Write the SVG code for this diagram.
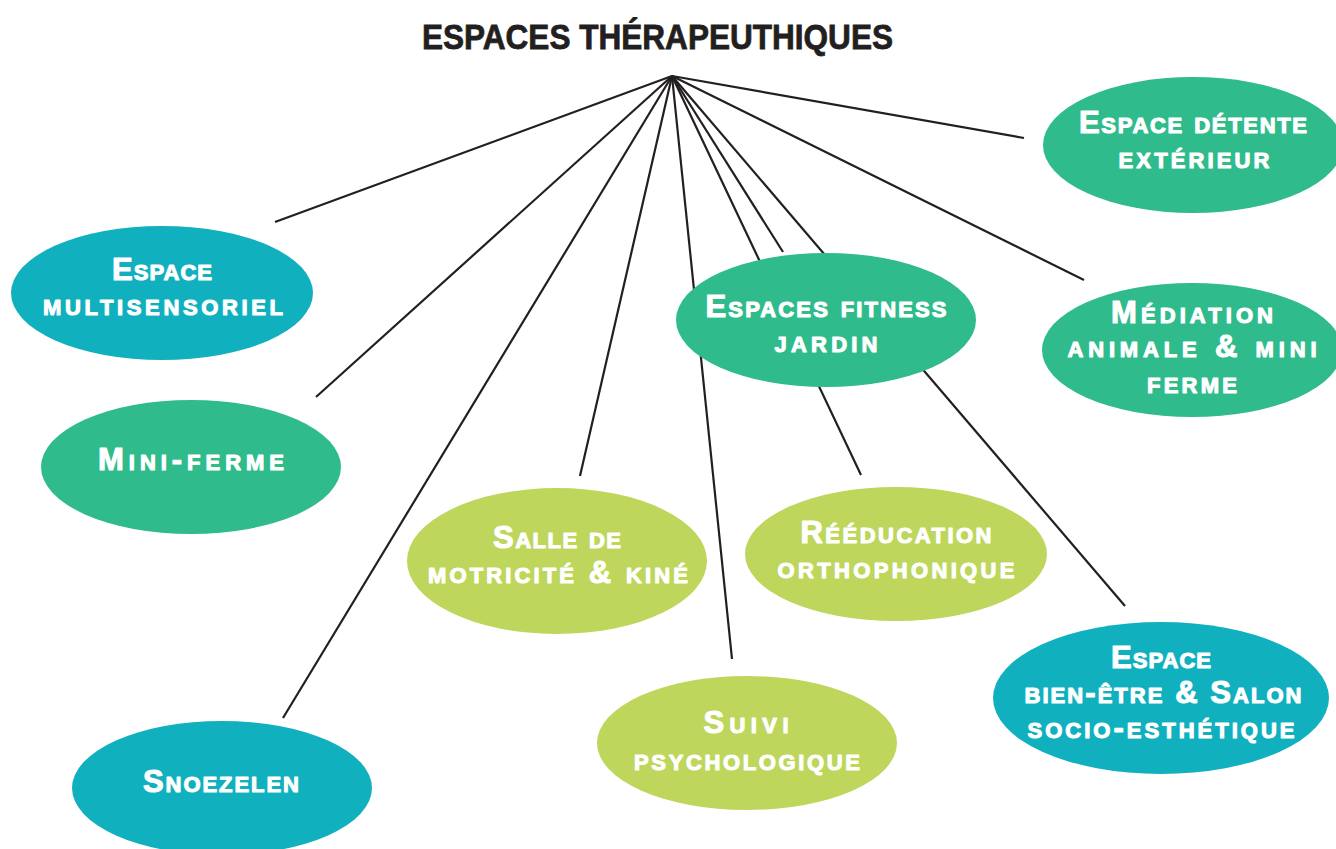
<svg xmlns="http://www.w3.org/2000/svg" width="1336" height="849" viewBox="0 0 1336 849">
<style>
.bg{fill:#ffffff}
.title{font-family:"Liberation Sans",Arial,sans-serif;font-weight:bold;font-size:35px;fill:#231F20;stroke:#231F20;stroke-width:0.8}
.lbl{font-family:"Liberation Sans",Arial,sans-serif;font-weight:bold;font-size:31px;font-variant:small-caps;fill:#ffffff;stroke:#ffffff;stroke-width:1.1;stroke-linejoin:round;text-anchor:middle}
.teal{fill:#11B0BF}
.green{fill:#2FBB8B}
.lime{fill:#BDD65B}
#connectors line{stroke:#231F20;stroke-width:2.2;stroke-linecap:butt}
</style>
<rect class="bg" x="0" y="0" width="1336" height="849"/>
<text class="title" x="422" y="49" textLength="471" lengthAdjust="spacingAndGlyphs">ESPACES THÉRAPEUTHIQUES</text>
<g id="connectors">
<line x1="672" y1="76" x2="275" y2="222"/>
<line x1="672" y1="76" x2="316" y2="397"/>
<line x1="672" y1="76" x2="283" y2="718"/>
<line x1="672" y1="76" x2="580" y2="476"/>
<line x1="672" y1="76" x2="732" y2="659"/>
<line x1="672" y1="76" x2="861" y2="475"/>
<line x1="672" y1="76" x2="783" y2="252"/>
<line x1="672" y1="76" x2="1125" y2="606"/>
<line x1="672" y1="76" x2="1084" y2="280"/>
<line x1="672" y1="76" x2="1024" y2="138"/>
</g>
<g id="node-multisensoriel">
<ellipse class="teal" cx="162" cy="293" rx="151" ry="67"/>
<text class="lbl" x="162" y="280" textLength="100" lengthAdjust="spacing">Espace</text>
<text class="lbl" x="163" y="315" textLength="240" lengthAdjust="spacing">multisensoriel</text>
</g>
<g id="node-mini-ferme">
<ellipse class="green" cx="191" cy="467" rx="150" ry="67"/>
<text class="lbl" x="191" y="470" textLength="186" lengthAdjust="spacing">Mini-ferme</text>
</g>
<g id="node-snoezelen">
<ellipse class="teal" cx="222" cy="788" rx="150" ry="67"/>
<text class="lbl" x="221" y="792" textLength="156" lengthAdjust="spacing">Snoezelen</text>
</g>
<g id="node-salle">
<ellipse class="lime" cx="557" cy="561" rx="150" ry="73"/>
<text class="lbl" x="557" y="548" textLength="128" lengthAdjust="spacing">Salle de</text>
<text class="lbl" x="558" y="583" textLength="260" lengthAdjust="spacing">motricité &amp; kiné</text>
</g>
<g id="node-suivi">
<ellipse class="lime" cx="747" cy="743" rx="150" ry="67"/>
<text class="lbl" x="746" y="733" textLength="85" lengthAdjust="spacing">Suivi</text>
<text class="lbl" x="747" y="770" textLength="226" lengthAdjust="spacing">psychologique</text>
</g>
<g id="node-fitness">
<ellipse class="green" cx="826" cy="320" rx="150" ry="67"/>
<text class="lbl" x="826" y="317" textLength="241" lengthAdjust="spacing">Espaces fitness</text>
<text class="lbl" x="826" y="352" textLength="103" lengthAdjust="spacing">jardin</text>
</g>
<g id="node-reeducation">
<ellipse class="lime" cx="896" cy="554" rx="151" ry="67"/>
<text class="lbl" x="896" y="543" textLength="191" lengthAdjust="spacing">Rééducation</text>
<text class="lbl" x="896" y="578" textLength="237" lengthAdjust="spacing">orthophonique</text>
</g>
<g id="node-detente">
<ellipse class="green" cx="1193" cy="145" rx="150" ry="68"/>
<text class="lbl" x="1193" y="133" textLength="228" lengthAdjust="spacing">Espace détente</text>
<text class="lbl" x="1194" y="168" textLength="151" lengthAdjust="spacing">extérieur</text>
</g>
<g id="node-mediation">
<ellipse class="green" cx="1192" cy="350" rx="150" ry="67"/>
<text class="lbl" x="1192" y="323" textLength="162" lengthAdjust="spacing">Médiation</text>
<text class="lbl" x="1192" y="357" textLength="249" lengthAdjust="spacing">animale &amp; mini</text>
<text class="lbl" x="1192" y="393" textLength="90" lengthAdjust="spacing">ferme</text>
</g>
<g id="node-bien-etre">
<ellipse class="teal" cx="1161" cy="698" rx="168" ry="76"/>
<text class="lbl" x="1161" y="668" textLength="100" lengthAdjust="spacing">Espace</text>
<text class="lbl" x="1163" y="703" textLength="277" lengthAdjust="spacing">bien-être &amp; Salon</text>
<text class="lbl" x="1161" y="738" textLength="267" lengthAdjust="spacing">socio-esthétique</text>
</g>
</svg>
